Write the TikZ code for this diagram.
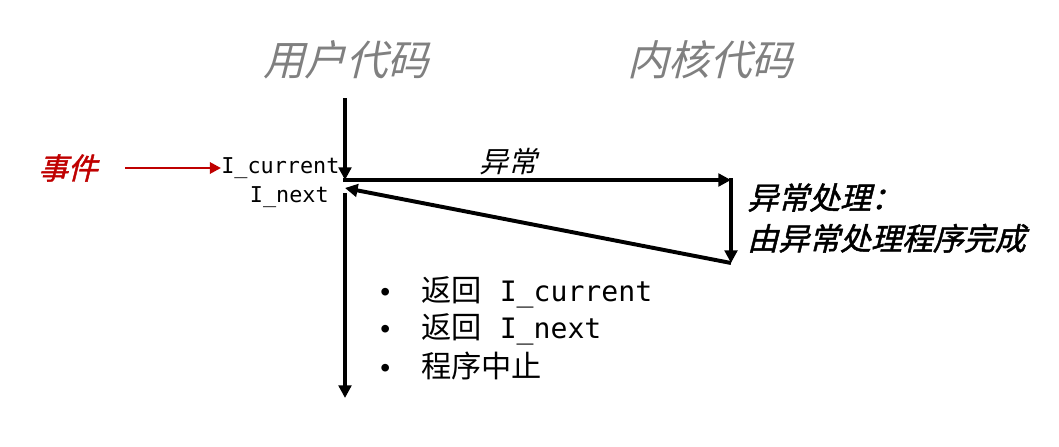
\documentclass[tikz,border=0pt]{standalone}
\usepackage{fontspec}
\setmainfont{Liberation Sans}
\setmonofont{DejaVu Sans Mono}
\newfontfamily\cjk{Noto Sans CJK SC}
\newfontfamily\cjkit[FakeSlant=0.25]{Noto Sans CJK SC}
\newfontfamily\cjkbit[FakeSlant=0.25,FakeBold=1.5]{Noto Sans CJK SC}
\usetikzlibrary{arrows.meta}
\usetikzlibrary{positioning}

\begin{document}
\begin{tikzpicture}[x=0.025cm, y=-0.025cm]
\tikzstyle{every node} = [inner sep=0pt]
\tikzstyle{flow} = [line width=2.8pt, -{Triangle[length=9pt,width=9pt]}]
\tikzstyle{title} = [text=gray, font=\cjkit\fontsize{29.5}{31}\selectfont]
\tikzstyle{instr} = [font=\ttfamily\fontsize{15.5}{17}\selectfont]
\tikzstyle{item} = [anchor=west, font=\fontsize{20}{22}\selectfont]
\useasboundingbox (0,0) rectangle (1059,447);
% Spaltenkoepfe
\node[title] (user) at (346, 60) {用户代码};
\node[title] (kern) at (710, 60) {内核代码};
% Ablauf
\coordinate (utop) at (345, 98);
\coordinate (uexc) at (345, 180);
\coordinate (uret) at (345, 188);
\coordinate (unext) at (345, 193);
\coordinate (ubot) at (345, 398);
\coordinate (kexc) at (731, 180);
\coordinate (kend) at (731, 263);
\draw[flow] (utop) -- (uexc);
\draw[flow] ([xshift=-1.4pt]uexc) -- (kexc);
\draw[flow] ([yshift=1.4pt]kexc) -- (kend);
\draw[flow] (kend) -- (uret);
\draw[flow] (unext) -- (ubot);
\node[font=\cjkit\fontsize{20.5}{22}\selectfont] (exc) at (508, 162) {异常};
\node[anchor=west, align=left, font=\cjkbit\fontsize{22}{29}\selectfont] (handler) at (747, 218) {异常处理：\\由异常处理程序完成};
% Ereignis
\node[text=red!75!black, font=\cjkbit\fontsize{21}{23}\selectfont] (event) at (68, 168) {事件};
\node[instr, anchor=west] (cur) at (221, 168) {I\_current};
\node[instr, anchor=east] (nxt) at (329, 197) {I\_next};
\coordinate (evtail) at (125, 168);
\draw[red!75!black, line width=2pt, -{Triangle[length=8pt,width=8pt]}] (evtail) -- (cur.west);
% Moeglichkeiten
\foreach \y/\txt in {292/{\cjk\fontsize{21.5}{22}\selectfont 返回}\hspace{0.65em}{\ttfamily I\_current}, 329/{\cjk\fontsize{21.5}{22}\selectfont 返回}\hspace{0.65em}{\ttfamily I\_next}, 366/{\cjk\fontsize{21.5}{22}\selectfont 程序中止}}
\node[item] at (380, \y) {\textbullet\hspace{1.1em}\txt};
\end{tikzpicture}
\end{document}
